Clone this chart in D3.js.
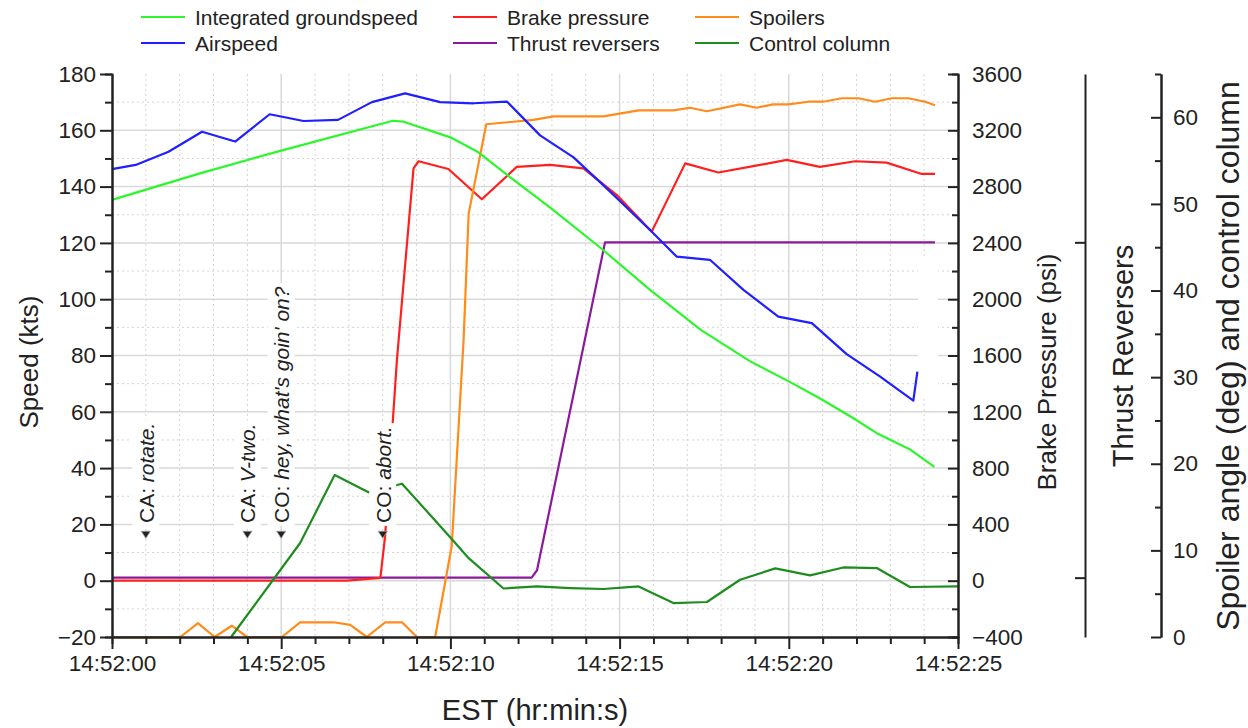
<!DOCTYPE html>
<meta charset="utf-8">
<head>
  <title>Rejected takeoff</title>
</head>

<style>
body {
  margin: 0;
  background: #fff;
  font-family: Arial, "Liberation Sans", sans-serif;
}
.gridMajor line { stroke: #d9d9d9; stroke-width: 1.5; }
.gridMinor line { stroke: #d3d3d3; stroke-width: 1; stroke-dasharray: 2,3; }
.axis path, .axis line { stroke: #222; stroke-width: 2; }
.axis text { font-family: Arial, "Liberation Sans", sans-serif; font-size: 22.5px; fill: #222; }
.title { font-size: 26px; fill: #222; }
.legend text { font-size: 21px; fill: #222; }
.ann text { font-size: 21px; fill: #222; }
</style>

<body>
<script src="https://d3js.org/d3.v7.min.js"></script>

<script>

// seconds after 14:52:00 , value
var groundspeed = [[0,135.3],[2.6,144.7],[5.0,152.8],[8.3,163.4],[8.6,163.1],[10.0,157.5],[10.8,152.4],
  [11.8,143],[12.95,132.5],[14.45,118.1],[15.9,103.3],[17.4,89.1],[18.85,78],[20.0,70.8],[20.9,64.9],
  [21.9,57.8],[22.6,52.4],[23.6,46.5],[24.3,40.4]];

var airspeed = [[0,146.2],[0.7,147.7],[1.67,152.4],[2.66,159.5],[3.64,156],[4.66,165.7],[5.66,163.3],
  [6.68,163.7],[7.68,170],[8.66,173.1],[9.7,170],[10.68,169.6],[11.67,170.2],[12.65,158.2],[13.64,150.4],
  [14.72,138.2],[15.9,124.6],[16.69,115.1],[17.67,114],[18.66,103.3],[19.69,93.8],[20.68,91.5],
  [21.71,80.5],[22.7,72.5],[23.68,64],[23.8,74.3]];

// psi
var brake = [[0,0],[6.94,0],[7.93,20],[8.07,315],[8.42,1570],[8.91,2930],[9.06,2980],[9.94,2925],
  [10.93,2710],[11.96,2940],[12.95,2955],[13.93,2930],[14.92,2740],[15.95,2480],[16.94,2965],
  [17.92,2900],[18.95,2945],[19.94,2990],[20.92,2940],[21.96,2980],[22.89,2970],[23.93,2890],[24.32,2890]];

// deg
var spoilers = [[0,0],[2.02,0],[2.54,1.6],[3.03,0],[3.54,1.3],[3.99,0],[5.02,0],[5.56,1.7],[6.55,1.7],
  [7.04,1.4],[7.53,0],[8.07,1.7],[8.57,1.7],[9.01,0],[9.55,0],[10.04,10.5],[10.39,34.3],[10.54,48.9],
  [11.06,59.2],[11.62,59.4],[12.45,59.7],[13.05,60.1],[14.52,60.1],[15.56,60.8],[16.59,60.8],[17.08,61.1],
  [17.58,60.7],[18.56,61.5],[19.05,61.1],[19.54,61.5],[19.99,61.5],[20.58,61.8],[21.02,61.8],[21.57,62.2],
  [22.06,62.2],[22.55,61.8],[23.04,62.2],[23.53,62.2],[24.03,61.8],[24.32,61.4]];

var reversers = [[0,0],[12.4,0],[12.56,0.022],[14.57,1],[24.32,1]];

var column = [[3.52,0],[5.56,10.85],[6.58,18.7],[7.58,16.7],[8.57,17.7],[10.0,11.5],[10.54,9.1],
  [11.57,5.6],[12.56,5.84],[13.54,5.65],[14.52,5.54],[15.56,5.84],[16.59,3.92],[17.58,4.04],[18.56,6.61],
  [19.6,7.92],[20.63,7.11],[21.61,8.03],[22.6,7.96],[23.58,5.77],[25,5.84]];

// cockpit voice recorder callouts
var annTimes = [1, 4, 5, 8];
var annWho = ["CA:", "CA:", "CO:", "CO:"];
var annSaid = ["rotate.", "V-two.", "hey, what's goin' on?", "abort."];

var speedTicks = d3.range(-20, 181, 20);
var brakeTicks = d3.range(-400, 3601, 400);
var spoilerTicks = d3.range(0, 61, 10);

var w = 1248, h = 728;
var pLeft = 112, pRight = 958, pTop = 74, pBottom = 637;

var svg = d3.select("body").append("svg")
  .attr("width", w)
  .attr("height", h);

var t0 = new Date(2000, 0, 1, 14, 52, 0);
function toDate(s) { return new Date(t0.getTime() + s * 1000); }

var x = d3.scaleTime().domain([t0, toDate(25)]).range([pLeft, pRight]);
var ySpeed = d3.scaleLinear().domain([-20, 180]).range([pBottom, pTop]);
var yBrake = d3.scaleLinear().domain([-400, 3600]).range([pBottom, pTop]);
var yThrust = d3.scaleLinear().domain([-0.177, 1.502]).range([pBottom, pTop]);
var ySpoil = d3.scaleLinear().domain([0, 65]).range([pBottom, pTop]);

// grid
var minorY = d3.range(-10, 180, 20);
var minorX = d3.range(0, 26).filter(function(d) { return d % 5 != 0; });

svg.append("g").attr("class", "gridMinor")
  .selectAll("line").data(minorY).enter().append("line")
  .attr("x1", pLeft).attr("x2", pRight)
  .attr("y1", function(d) { return ySpeed(d); }).attr("y2", function(d) { return ySpeed(d); });
svg.append("g").attr("class", "gridMinor")
  .selectAll("line").data(minorX).enter().append("line")
  .attr("y1", pTop).attr("y2", pBottom)
  .attr("x1", function(d) { return x(toDate(d)); }).attr("x2", function(d) { return x(toDate(d)); });
svg.append("g").attr("class", "gridMajor")
  .selectAll("line").data(speedTicks.filter(function(d) { return d > -20 && d < 180; })).enter().append("line")
  .attr("x1", pLeft).attr("x2", pRight)
  .attr("y1", function(d) { return ySpeed(d); }).attr("y2", function(d) { return ySpeed(d); });
svg.append("g").attr("class", "gridMajor")
  .selectAll("line").data([5, 10, 15, 20]).enter().append("line")
  .attr("y1", pTop).attr("y2", pBottom)
  .attr("x1", function(d) { return x(toDate(d)); }).attr("x2", function(d) { return x(toDate(d)); });

// blank strip left over from the original legend frame
svg.append("rect")
  .attr("x", 918).attr("y", 258).attr("width", 20).attr("height", 140)
  .attr("fill", "white");

// lines
function lineFor(yScale) {
  return d3.line()
    .x(function(d) { return x(toDate(d[0])); })
    .y(function(d) { return yScale(d[1]); });
}

var series = [
  {data: reversers, y: yThrust, color: "#8a1a9b"},
  {data: brake, y: yBrake, color: "#ff1f1f"},
  {data: spoilers, y: ySpoil, color: "#ff8c1a"},
  {data: column, y: ySpoil, color: "#1e8c1e"},
  {data: airspeed, y: ySpeed, color: "#1f1fff"},
  {data: groundspeed, y: ySpeed, color: "#2bf72b"}
];

series.forEach(function(s) {
  svg.append("path")
    .datum(s.data)
    .attr("d", lineFor(s.y))
    .attr("fill", "none")
    .attr("stroke", s.color)
    .attr("stroke-width", 2.2)
    .attr("stroke-linejoin", "round");
});

// annotations
annTimes.forEach(function(t, i) {
  var ax = x(toDate(t));
  var g = svg.append("g").attr("class", "ann")
    .attr("transform", "translate(" + ax + "," + ySpeed(20.5) + ") rotate(-90)");
  var bg = g.append("rect").attr("fill", "white");
  var txt = g.append("text")
    .attr("x", 0).attr("y", 0)
    .attr("dominant-baseline", "central");
  txt.append("tspan").text(annWho[i] + " ");
  txt.append("tspan").attr("font-style", "italic").text(annSaid[i]);
  var bb = txt.node().getBBox();
  bg.attr("x", bb.x - 3).attr("y", bb.y - 2)
    .attr("width", bb.width + 6).attr("height", bb.height + 4);

  var ty = ySpeed(16.3);
  svg.append("path")
    .attr("d", "M" + (ax - 4.5) + "," + (ty - 3.5) + "L" + (ax + 4.5) + "," + (ty - 3.5) + "L" + ax + "," + (ty + 3.5) + "Z")
    .attr("fill", "#222")
    .attr("stroke", "#999")
    .attr("stroke-width", 0.8);
});

// axes
function styleAxis(g) {
  g.attr("class", "axis").attr("font-size", null).attr("font-family", null);
}

svg.append("g")
  .attr("transform", "translate(" + pLeft + ",0)")
  .call(d3.axisLeft(ySpeed).tickValues(minorY).tickSize(7).tickFormat(""))
  .call(styleAxis);
svg.append("g")
  .attr("transform", "translate(" + pLeft + ",0)")
  .call(d3.axisLeft(ySpeed).tickValues(speedTicks).tickSize(12).tickSizeOuter(0).tickPadding(4))
  .call(styleAxis);

svg.append("g")
  .attr("transform", "translate(0," + pBottom + ")")
  .call(d3.axisBottom(x).tickValues(minorX.map(toDate)).tickSize(7).tickFormat(""))
  .call(styleAxis);
svg.append("g")
  .attr("transform", "translate(0," + pBottom + ")")
  .call(d3.axisBottom(x).tickValues([0, 5, 10, 15, 20, 25].map(toDate)).tickSize(12).tickSizeOuter(0)
    .tickPadding(6).tickFormat(d3.timeFormat("%H:%M:%S")))
  .call(styleAxis);

svg.append("g")
  .attr("transform", "translate(" + pRight + ",0)")
  .call(d3.axisRight(yBrake).tickValues(d3.range(-200, 3600, 400)).tickSize(-6).tickFormat(""))
  .call(styleAxis);
svg.append("g")
  .attr("transform", "translate(" + pRight + ",0)")
  .call(d3.axisRight(yBrake).tickValues(brakeTicks).tickSize(-10).tickSizeOuter(0).tickPadding(14)
    .tickFormat(d3.format("d")))
  .call(styleAxis);

svg.append("g")
  .attr("transform", "translate(1085,0)")
  .call(d3.axisRight(yThrust).tickValues([0, 1]).tickSize(-10).tickSizeOuter(0).tickFormat(""))
  .call(styleAxis);

svg.append("g")
  .attr("transform", "translate(1161,0)")
  .call(d3.axisRight(ySpoil).tickValues(d3.range(5, 66, 10)).tickSize(-6).tickSizeOuter(0).tickFormat(""))
  .call(styleAxis);
svg.append("g")
  .attr("transform", "translate(1161,0)")
  .call(d3.axisRight(ySpoil).tickValues(spoilerTicks).tickSize(-10).tickSizeOuter(0).tickPadding(12))
  .call(styleAxis);

// axis titles
function vTitle(tx, ty, size, label) {
  svg.append("text").attr("class", "title")
    .attr("transform", "translate(" + tx + "," + ty + ") rotate(-90)")
    .attr("text-anchor", "middle")
    .attr("dominant-baseline", "central")
    .style("font-size", size + "px")
    .text(label);
}
vTitle(29, 362, 26, "Speed (kts)");
vTitle(1047, 372, 26, "Brake Pressure (psi)");
vTitle(1123, 356, 29, "Thrust Reversers");
vTitle(1228, 356, 32, "Spoiler angle (deg) and control column");

svg.append("text").attr("class", "title")
  .attr("x", (pLeft + pRight) / 2).attr("y", 710)
  .attr("text-anchor", "middle")
  .attr("dominant-baseline", "central")
  .style("font-size", "29px")
  .text("EST (hr:min:s)");

// legend
var legendNames = ["Integrated groundspeed", "Airspeed", "Brake pressure", "Thrust reversers", "Spoilers", "Control column"];
var legendColors = ["#2bf72b", "#1f1fff", "#ff1f1f", "#8a1a9b", "#ff8c1a", "#1e8c1e"];
var legendCols = [141, 453, 695];

var legend = svg.append("g").attr("class", "legend")
  .selectAll("g").data(legendNames).enter().append("g")
  .attr("transform", function(d, i) {
    return "translate(" + legendCols[Math.floor(i / 2)] + "," + (17 + (i % 2) * 26) + ")";
  });
legend.append("line")
  .attr("x1", 0).attr("x2", 44)
  .attr("stroke", function(d, i) { return legendColors[i]; })
  .attr("stroke-width", 2);
legend.append("text")
  .attr("x", 54)
  .attr("dominant-baseline", "central")
  .text(function(d) { return d; });

</script>
</body>
</html>
